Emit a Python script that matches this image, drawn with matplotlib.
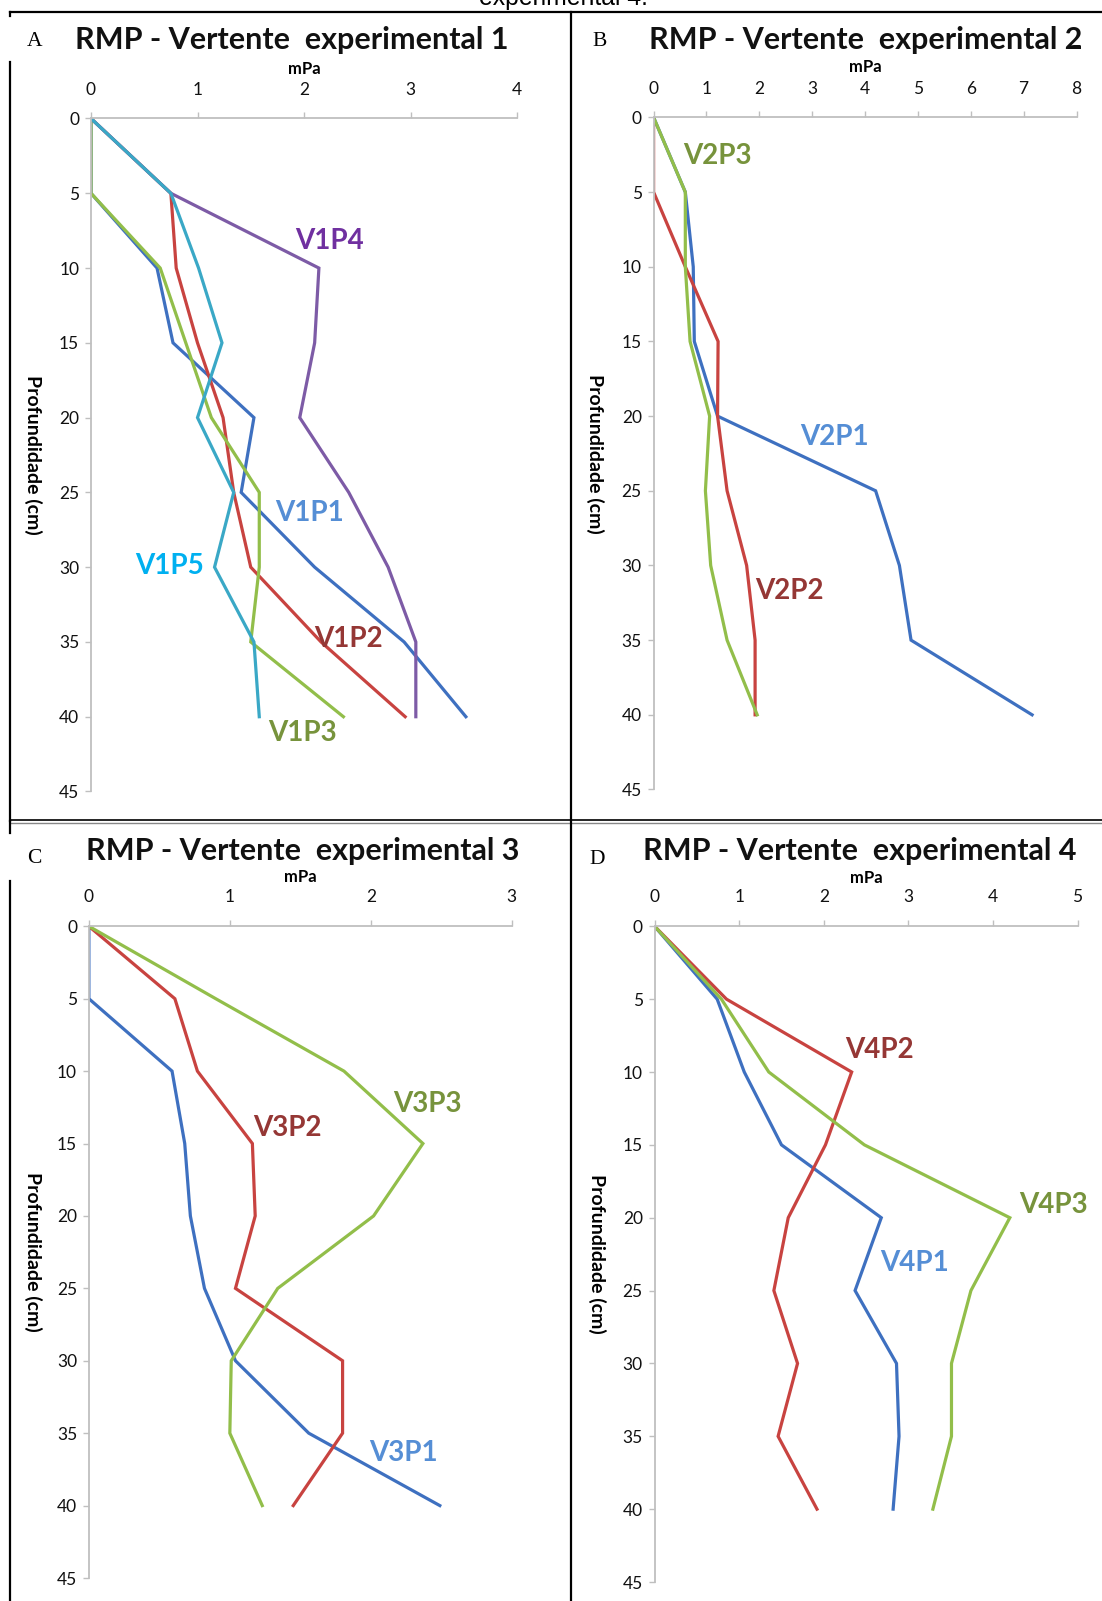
import matplotlib
matplotlib.use("Agg")
import matplotlib.pyplot as plt
from matplotlib.lines import Line2D

plt.rcParams['font.family'] = ['Lato', 'DejaVu Sans']

W, H = 1102, 1601

# profundidade (cm)
depth = [0, 5, 10, 15, 20, 25, 30, 35, 40]

# Vertente experimental 1 (mPa)
v1p1 = [0, 0, 0.62, 0.77, 1.53, 1.41, 2.10, 2.94, 3.52]
v1p2 = [0, 0.75, 0.80, 1.00, 1.24, 1.34, 1.50, 2.16, 2.95]
v1p3 = [0, 0, 0.65, 0.89, 1.13, 1.58, 1.58, 1.50, 2.37]
v1p4 = [0, 0.75, 2.14, 2.10, 1.96, 2.42, 2.79, 3.05, 3.05]
v1p5 = [0, 0.75, 1.01, 1.23, 1.00, 1.34, 1.16, 1.53, 1.58]

# Vertente experimental 2
v2p1 = [0, 0.60, 0.75, 0.77, 1.21, 4.20, 4.65, 4.87, 7.16]
v2p2 = [0, 0, 0.60, 1.22, 1.21, 1.39, 1.76, 1.92, 1.92]
v2p3 = [0, 0.60, 0.60, 0.69, 1.06, 0.98, 1.08, 1.39, 1.96]

# Vertente experimental 3
v3p1 = [0, 0, 0.59, 0.68, 0.72, 0.82, 1.04, 1.56, 2.49]
v3p2 = [0, 0.61, 0.77, 1.16, 1.18, 1.04, 1.80, 1.80, 1.45]
v3p3 = [0, 0.90, 1.81, 2.37, 2.02, 1.34, 1.01, 1.00, 1.23]

# Vertente experimental 4
v4p1 = [0, 0.74, 1.06, 1.50, 2.68, 2.37, 2.86, 2.89, 2.82]
v4p2 = [0, 0.85, 2.33, 2.02, 1.58, 1.41, 1.69, 1.46, 1.92]
v4p3 = [0, 0.79, 1.35, 2.48, 4.20, 3.74, 3.51, 3.51, 3.29]

# cores
c_blue, c_red, c_green, c_purple, c_cyan = '#3E70C0', '#C84340', '#92BE4A', '#7D5BA6', '#3AA8C6'
t_blue, t_red, t_green, t_purple, t_cyan = '#558ED5', '#953735', '#77933C', '#7030A0', '#00B0F0'
axis_gray = '#BFBFBF'


def fx(x):
    return x / W


def fy(y):
    return 1 - y / H


fig = plt.figure(figsize=(W / 100, H / 100), dpi=100)


def panel(box, title, title_xy, letter, letter_xy, mpa_y, ylab_x, xmax, series, labels):
    left, right, top, bottom = box
    ax = fig.add_axes([fx(left), fy(bottom), (right - left) / W, (bottom - top) / H])
    for vals, col in series:
        ax.plot(vals, depth, color=col, lw=2.3, solid_joinstyle='miter')
    for txt, x, y, col in labels:
        ax.text(x, y, txt, color=col, fontsize=20, fontweight='bold', ha='center', va='center')
    ax.set_xlim(0, xmax)
    ax.set_ylim(45, 0)
    ax.set_xticks(range(0, xmax + 1))
    ax.set_yticks(range(0, 50, 5))
    ax.xaxis.tick_top()
    for s in ['bottom', 'right']:
        ax.spines[s].set_visible(False)
    for s in ['top', 'left']:
        ax.spines[s].set_color(axis_gray)
        ax.spines[s].set_linewidth(1.3)
    ax.tick_params(axis='x', length=4, width=1, color=axis_gray, pad=11, labelsize=12.5, labelcolor='#111111')
    ax.tick_params(axis='y', length=4, width=1, color=axis_gray, pad=4.5, labelsize=12.5, labelcolor='#111111')
    ax.xaxis.set_label_position('top')
    ax.set_xlabel('mPa', fontsize=12, fontweight='bold', va='center')
    ax.xaxis.set_label_coords(0.5, 1 + (top - mpa_y) / (bottom - top))
    ax.set_ylabel('Profundidade (cm)', fontsize=14, fontweight='bold', rotation=-90, va='center', ha='center')
    ax.yaxis.set_label_coords((ylab_x - left) / (right - left), 0.5)
    ax.patch.set_alpha(0)
    fig.text(fx(title_xy[0]), fy(title_xy[1]), title, fontsize=22, fontweight='bold', ha='center', va='center',
             color='#111111')
    fig.text(fx(letter_xy[0]), fy(letter_xy[1]), letter, fontsize=15.5, family='Liberation Serif',
             ha='center', va='center')
    return ax


panel((91, 517, 118.5, 791.5), 'RMP - Vertente  experimental 1', (292, 40), 'A', (35, 41), 69, 33, 4,
      [(v1p1, c_blue), (v1p2, c_red), (v1p3, c_green), (v1p4, c_purple), (v1p5, c_cyan)],
      [('V1P4', 2.24, 8.2, t_purple), ('V1P1', 2.05, 26.4, t_blue), ('V1P5', 0.74, 29.9, t_cyan),
       ('V1P2', 2.42, 34.8, t_red), ('V1P3', 1.99, 41.1, t_green)])

panel((653.6, 1076.5, 117.4, 789.5), 'RMP - Vertente  experimental 2', (866, 40), 'B', (600, 42), 67.5, 595, 8,
      [(v2p1, c_blue), (v2p2, c_red), (v2p3, c_green)],
      [('V2P3', 1.20, 2.6, t_green), ('V2P1', 3.42, 21.4, t_blue), ('V2P2', 2.57, 31.7, t_red)])

panel((88.9, 511.7, 926.3, 1578), 'RMP - Vertente  experimental 3', (303, 851), 'C', (34, 858), 877, 33, 3,
      [(v3p1, c_blue), (v3p2, c_red), (v3p3, c_green)],
      [('V3P3', 2.40, 12.3, t_green), ('V3P2', 1.41, 13.9, t_red), ('V3P1', 2.23, 36.4, t_blue)])

panel((654.6, 1077.5, 926.3, 1582), 'RMP - Vertente  experimental 4', (860, 851), 'D', (597, 859), 878, 597, 5,
      [(v4p1, c_blue), (v4p2, c_red), (v4p3, c_green)],
      [('V4P2', 2.66, 8.5, t_red), ('V4P3', 4.71, 19.1, t_green), ('V4P1', 3.07, 23.1, t_blue)])

# legenda cortada no topo
fig.text(fx(563), fy(5), 'experimental 4.', fontsize=17.8, family='Liberation Sans', ha='center', va='baseline')


# linhas da tabela
def hline(y, x0, x1, lw=1.6, color='black'):
    fig.add_artist(Line2D([fx(x0), fx(x1)], [fy(y), fy(y)], lw=lw, color=color))


def vline(x, y0, y1, lw=1.6, color='black'):
    fig.add_artist(Line2D([fx(x), fx(x)], [fy(y0), fy(y1)], lw=lw, color=color))


hline(12, 10, W)
hline(820, 10, W, lw=1.2)
hline(823, 10, W, lw=1.0, color='#888888')
vline(571, 12, H)
vline(10, 12, 16)
vline(10, 62, 821)
vline(10, 821, 833)
vline(10, 881, H)

fig.savefig('out.png', dpi=100)
